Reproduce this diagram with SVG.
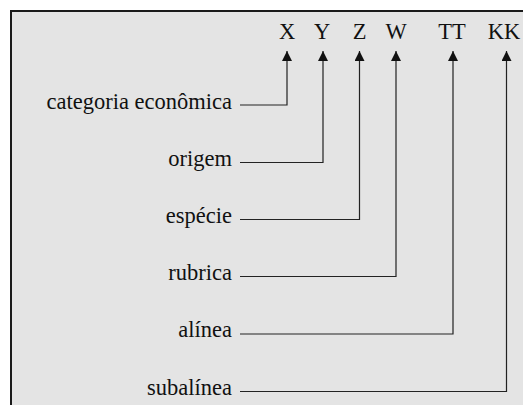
<svg xmlns="http://www.w3.org/2000/svg" width="523" height="405" viewBox="0 0 523 405">
<style>
text{font-family:'Liberation Serif','DejaVu Serif',serif;font-size:22.5px;fill:#111;}
.r{text-anchor:end;}
.c{text-anchor:middle;}
.ln{fill:none;stroke:#222;stroke-width:1.2;}
</style>
<defs>
<marker id="ah" viewBox="0 0 10 10" refX="10" refY="5" markerWidth="10" markerHeight="10" markerUnits="userSpaceOnUse" orient="auto">
<path d="M0,0 L10,5 L0,10 Z" fill="#111"/>
</marker>
</defs>
<rect width="523" height="405" fill="#ffffff"/>
<rect x="11" y="11" width="600" height="500" fill="#e4e4e4" stroke="#1a1a1a" stroke-width="2"/>
<g id="codes" font-family="Liberation Serif, serif">
<text class="c" x="287" y="39">X</text>
<text class="c" x="322" y="39">Y</text>
<text class="c" x="359.5" y="39">Z</text>
<text class="c" x="396" y="39">W</text>
<text class="c" x="452" y="39">TT</text>
<text class="c" x="504" y="39">KK</text>
</g>
<g id="n-categoria"><text class="r" x="232" y="108.5">categoria econômica</text></g>
<g id="n-origem"><text class="r" x="232" y="165.5">origem</text></g>
<g id="n-especie"><text class="r" x="232" y="222.5">espécie</text></g>
<g id="n-rubrica"><text class="r" x="232" y="280">rubrica</text></g>
<g id="n-alinea"><text class="r" x="232" y="337">alínea</text></g>
<g id="n-subalinea"><text class="r" x="232" y="395">subalínea</text></g>
<g id="connectors">
<polyline class="ln" points="240,105 287,105 287,51" marker-end="url(#ah)"/>
<polyline class="ln" points="240,162.5 323,162.5 323,51" marker-end="url(#ah)"/>
<polyline class="ln" points="240,219.5 359.5,219.5 359.5,51" marker-end="url(#ah)"/>
<polyline class="ln" points="240,276.5 396,276.5 396,51" marker-end="url(#ah)"/>
<polyline class="ln" points="240,334 453,334 453,51" marker-end="url(#ah)"/>
<polyline class="ln" points="240,391.5 506.5,391.5 506.5,51" marker-end="url(#ah)"/>
</g>
</svg>
